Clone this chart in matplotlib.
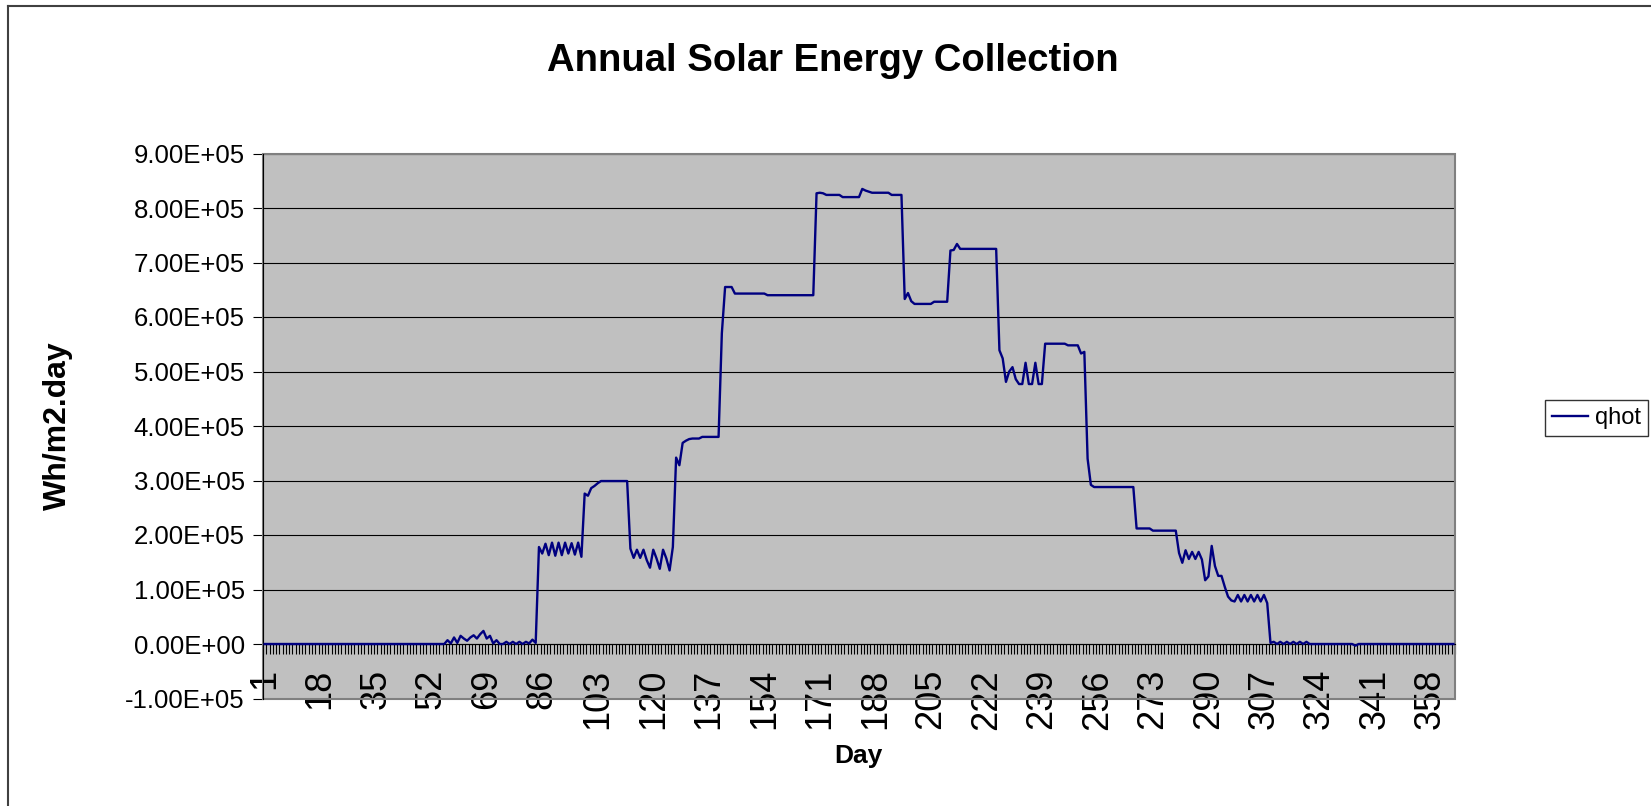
import matplotlib.pyplot as plt
import numpy as np
from matplotlib.lines import Line2D
from matplotlib.patches import Rectangle

plt.rcParams['font.family'] = ['Liberation Sans', 'DejaVu Sans']

qhot_k = (
    [0] * 56
    + [7, 1, 12, 2, 15, 10, 6, 12, 16, 10, 18, 24, 10, 15, 1, 7,
       0, 0, 4, 0, 4, 0, 4, 0, 4, 1, 8, 2]
    + [178, 166, 184, 163, 186, 162, 186, 163, 186, 166, 185, 164, 186, 160]
    + [276, 272, 286, 290, 295, 299] + [299] * 8
    + [175, 158, 173, 158, 173, 154, 140, 173, 157, 138, 173, 157, 135, 178]
    + [342, 328, 369, 373, 376, 377, 377, 377] + [380] * 6
    + [570, 655, 655, 655] + [643] * 10 + [640] * 15
    + [827, 828, 827] + [824] * 5 + [820] * 6
    + [835, 832, 830] + [828] * 6 + [824] * 4
    + [633, 644, 629] + [624] * 6 + [628] * 5
    + [722, 723, 734] + [725] * 12
    + [539, 524, 481, 500, 508, 486, 477, 477, 516, 477, 477, 516, 477, 477]
    + [551] * 7 + [548] * 4 + [533, 536, 340, 292]
    + [288] * 13 + [212] * 5 + [208] * 8
    + [167, 149, 172, 156, 169, 156, 169, 155, 117, 124, 180, 143, 125, 125, 105,
       87, 80, 78, 90, 78, 90, 78, 90, 78, 90, 78, 90, 75]
    + [2, 4, 0, 4, 0, 4, 0, 4, 0, 4, 0, 4, 0]
    + [0] * 13 + [-3] + [0] * 30
)
qhot = np.array(qhot_k) * 1000.0
days = np.arange(1, len(qhot) + 1)

label_days = list(range(1, 366, 17))
y_ticks = np.arange(-1e5, 9.01e5, 1e5)

W, H = 1651, 806
fig = plt.figure(figsize=(W / 100, H / 100), dpi=100)
ax = fig.add_axes([263 / W, 1 - 698.5 / H, 1192 / W, 545 / H])
ax.set_facecolor('#C0C0C0')

ax.plot(days, qhot, color='#000080', lw=1.7, label='qhot', zorder=3)

ax.set_xlim(0.5, 365.5)
ax.set_ylim(-1e5, 9e5)

# value axis
ax.set_yticks(y_ticks)
ax.set_yticklabels([f'{v:.2E}' for v in y_ticks])
ax.yaxis.grid(True, color='black', lw=0.8)
ax.set_axisbelow(True)
ax.tick_params(axis='y', direction='out', length=7, width=0.8, labelsize=18.5, pad=6)

# category axis crossing at zero
ax.spines['bottom'].set_position(('data', 0))
ax.set_xticks(label_days)
ax.set_xticklabels([str(d) for d in label_days], rotation=90)
ax.set_xticks(np.arange(0.5, 366, 1), minor=True)
ax.tick_params(axis='x', which='major', length=0, labelsize=26, pad=18)
ax.tick_params(axis='x', which='minor', direction='out', length=7, width=0.8)

for s in ['top', 'right']:
    ax.spines[s].set_visible(False)
ax.spines['left'].set_color('black')
ax.spines['bottom'].set_color('black')
ax.add_patch(Rectangle((0, 0), 1, 1, transform=ax.transAxes, fill=False,
                       ec='#808080', lw=1.5, clip_on=False, zorder=1))

fig.text(833 / W, 1 - 61 / H, 'Annual Solar Energy Collection', fontsize=27.5,
         fontweight='bold', ha='center', va='center')
fig.text(58 / W, 1 - 426 / H, 'Wh/m2.day', fontsize=23, fontweight='bold',
         rotation=90, ha='center', va='center')
fig.text(858 / W, 1 - 756 / H, 'Day', fontsize=19, fontweight='bold',
         ha='center', va='center')

leg = fig.legend(loc='upper right', bbox_to_anchor=(1648 / W, 1 - 400 / H),
                 borderaxespad=0, fancybox=False, fontsize=17, handlelength=1.5,
                 handletextpad=0.3, borderpad=0.3)
leg.get_frame().set_edgecolor('black')
leg.get_frame().set_linewidth(1)

# chart area border (top and left visible)
fig.add_artist(Line2D([8 / W, 8 / W], [0, 1 - 6 / H], color='#404040', lw=1.5))
fig.add_artist(Line2D([8 / W, 1], [1 - 6 / H, 1 - 6 / H], color='#404040', lw=1.5))

fig.savefig('out.png', dpi=100)
